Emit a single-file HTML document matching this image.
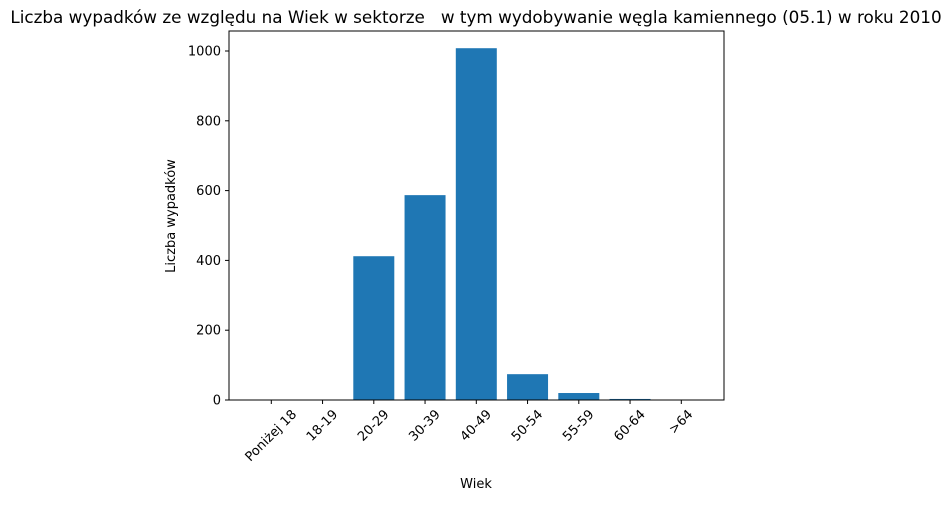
<!DOCTYPE html>
<html><head><meta charset="utf-8"><style>
body{margin:0;background:#fff;font-family:"Liberation Sans","DejaVu Sans",sans-serif}
svg text{font-family:"DejaVu Sans","Liberation Sans",sans-serif;fill:#000}
</style></head><body>
<svg id="chart" width="952" height="500">
<text x="476" y="23" font-size="16.8" text-anchor="middle" style="white-space:pre" xml:space="preserve">Liczba wypadków ze względu na Wiek w sektorze   w tym wydobywanie węgla kamiennego (05.1) w roku 2010</text>
<g id="bars"></g><g id="xt"></g><g id="yt"></g>
<rect x="229" y="31" width="495" height="369" fill="none" stroke="#000" stroke-width="1"/>
<text x="476" y="488" font-size="13" text-anchor="middle">Wiek</text>
<text transform="translate(175,216) rotate(-90)" font-size="13" text-anchor="middle">Liczba wypadków</text>
</svg>
<script>
const categories=["Poniżej 18","18-19","20-29","30-39","40-49","50-54","55-59","60-64",">64"];
const values=[0,0,412,587,1008,74,20,3,0];
const yTicks=[0,200,400,600,800,1000];
const ns="http://www.w3.org/2000/svg";
const x0=271.3,step=51.25,bw=41;
const xs=i=>x0+i*step;
const ys=v=>400-v*0.349;
function mk(t,a,p){const e=document.createElementNS(ns,t);for(const k in a)e.setAttribute(k,a[k]);p.appendChild(e);return e;}
const B=document.getElementById('bars'),X=document.getElementById('xt'),Y=document.getElementById('yt');
categories.forEach((c,i)=>{
 const r=mk('rect',{x:xs(i)-bw/2,y:ys(values[i]),width:bw,height:400-ys(values[i]),fill:'#1f77b4'},B);
 
 
 mk('line',{x1:xs(i),x2:xs(i),y1:400,y2:404,stroke:'#000'},X);
 const t=mk('text',{'font-size':13,'text-anchor':'middle','dominant-baseline':'central'},X);
 t.textContent=c;
 
 
 const L=t.getComputedTextLength();
 const cy=408+(L+13)*0.707/2;
 t.setAttribute('transform',`translate(${xs(i)},${cy}) rotate(-45)`);
});
yTicks.forEach(v=>{
 mk('line',{x1:225,x2:229,y1:ys(v),y2:ys(v),stroke:'#000'},Y);
 const t=mk('text',{x:221,y:ys(v)+4.5,'font-size':13,'text-anchor':'end'},Y);
 t.textContent=v;
 
 
});
</script>
</body></html>
